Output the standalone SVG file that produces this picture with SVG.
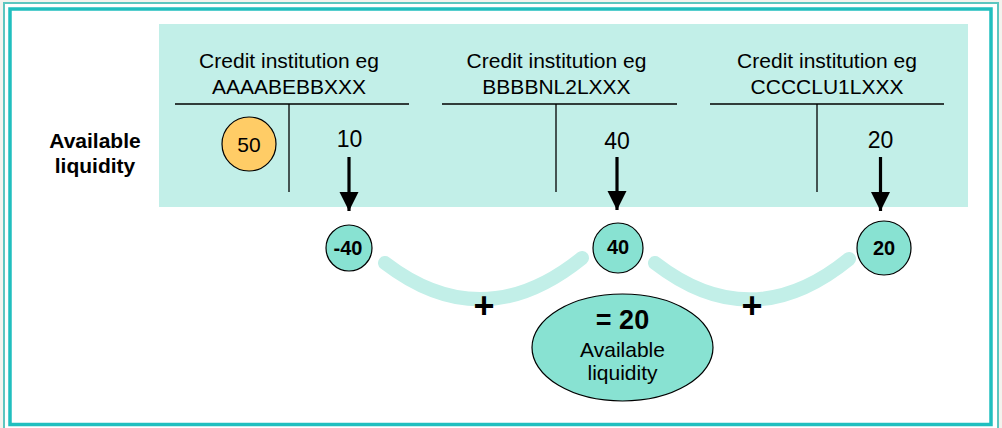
<svg xmlns="http://www.w3.org/2000/svg" width="1002" height="428" viewBox="0 0 1002 428">
<defs>
<style>
.t{font-family:"Liberation Sans",Arial,sans-serif;fill:#000;text-anchor:middle}
.n{font-size:21px}
.num{font-size:23px}
.b{font-weight:bold}
.ln{stroke:#000;stroke-width:1.3;fill:none}
.arc{stroke:#c2efe8;stroke-width:14;fill:none;stroke-linecap:round}
.circ{fill:#88e2d2;stroke:#000;stroke-width:1.2}
.arr{stroke:#000;stroke-width:3.2;fill:none}
.cl{font-size:20px;font-weight:bold}
</style>
<marker id="ah" viewBox="0 0 10 10" refX="10" refY="5" markerWidth="6" markerHeight="6" markerUnits="strokeWidth" orient="auto">
<path d="M0,0 L10,5 L0,10 z" fill="#000"/>
</marker>
</defs>
<rect x="0" y="0" width="1002" height="428" fill="#f3f3ee"/>
<rect x="4" y="3" width="994" height="428" fill="#fff" stroke="#5cc6c0" stroke-width="2"/>
<rect x="10" y="9" width="981" height="415.5" fill="#fff" stroke="#20bfbf" stroke-width="3.5"/>
<rect x="159" y="24" width="809" height="183" fill="#c2efe8"/>
<g id="label-available">
<text class="t b" font-size="21" x="95" y="148">Available</text>
<text class="t b" font-size="21" x="95" y="173">liquidity</text>
</g>
<g id="ci-a">
<text class="t n" x="289" y="68">Credit institution eg</text>
<text class="t n" x="289" y="94">AAAABEBBXXX</text>
<line class="ln" x1="175" y1="104" x2="409" y2="104"/>
<line class="ln" x1="289" y1="104" x2="289" y2="192"/>
<text class="t num" x="349.5" y="147">10</text>
</g>
<g id="ci-b">
<text class="t n" x="556.5" y="68">Credit institution eg</text>
<text class="t n" x="556.5" y="94">BBBBNL2LXXX</text>
<line class="ln" x1="442" y1="104" x2="677" y2="104"/>
<line class="ln" x1="556" y1="104" x2="556" y2="192"/>
<text class="t num" x="617" y="149">40</text>
</g>
<g id="ci-c">
<text class="t n" x="827" y="68">Credit institution eg</text>
<text class="t n" x="827" y="94">CCCCLU1LXXX</text>
<line class="ln" x1="710" y1="104" x2="944" y2="104"/>
<line class="ln" x1="817" y1="104" x2="817" y2="192"/>
<text class="t num" x="880.5" y="148">20</text>
</g>
<g id="coin-50">
<circle cx="249" cy="144" r="27" fill="#ffcc66" stroke="#000" stroke-width="1.2"/>
<text class="t" font-size="21" x="249" y="151.5">50</text>
</g>
<g id="connectors">
<line class="arr" x1="349" y1="157" x2="349" y2="211" marker-end="url(#ah)"/>
<line class="arr" x1="617" y1="157" x2="617" y2="210" marker-end="url(#ah)"/>
<line class="arr" x1="880.5" y1="157" x2="880.5" y2="211" marker-end="url(#ah)"/>
<path class="arc" d="M385,263 Q483,338 582,258"/>
<path class="arc" d="M655,263 Q752,338 849,259"/>
</g>
<g id="plus-1"><text class="t b" font-size="36" x="484" y="318">+</text></g>
<g id="plus-2"><text class="t b" font-size="36" x="752" y="318">+</text></g>
<g id="node-m40">
<circle class="circ" cx="349" cy="248" r="23"/>
<text class="t cl" x="348" y="255">-40</text>
</g>
<g id="node-40">
<circle class="circ" cx="618" cy="248" r="25"/>
<text class="t cl" x="618" y="254">40</text>
</g>
<g id="node-20">
<circle class="circ" cx="884" cy="248" r="27"/>
<text class="t cl" x="884" y="254.5">20</text>
</g>
<g id="result">
<ellipse class="circ" cx="622.5" cy="347.5" rx="90.5" ry="53.5"/>
<text class="t b" font-size="27" x="622.5" y="328.5">= 20</text>
<text class="t" font-size="21" x="622.5" y="357">Available</text>
<text class="t" font-size="21" x="622.5" y="380">liquidity</text>
</g>
</svg>
